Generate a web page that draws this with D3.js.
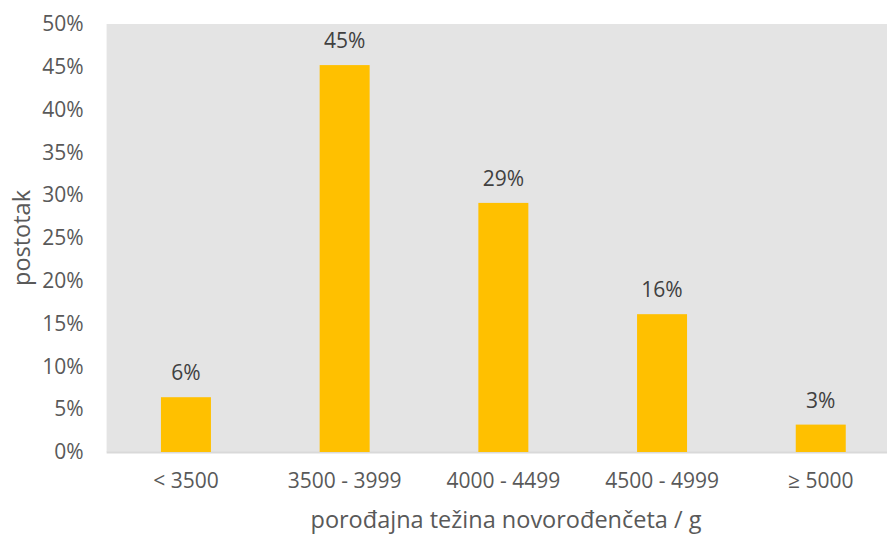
<!DOCTYPE html>
<html><head><meta charset="utf-8">
<script src="https://cdn.jsdelivr.net/npm/d3@7"></script>
<style>body{margin:0;background:#fff}svg{display:block}text{font-family:"Open Sans",sans-serif}</style>
</head><body><svg id="c" width="887" height="535"></svg>
<script>
const categories = ["< 3500", "3500 - 3999", "4000 - 4499", "4500 - 4999", "≥ 5000"];
const values = [0.064, 0.452, 0.291, 0.161, 0.032];
const labels = ["6%", "45%", "29%", "16%", "3%"];
const yTicks = [0,0.05,0.1,0.15,0.2,0.25,0.3,0.35,0.4,0.45,0.5];
const xTitle = "porođajna težina novorođenčeta / g";
const yTitle = "postotak";

(function(){
const svg = d3.select("#c");
const W = 887, H = 535;
const mLeft = 106.6, mTop = 24, mBottom = 452;
const fs = 21;
const x = d3.scaleBand().domain(categories).range([mLeft, mLeft + 5*158.7]).paddingInner(0.685).paddingOuter(0.3425);
const y = d3.scaleLinear().domain([0, 0.5]).range([mBottom, mTop]);

svg.append("rect").attr("x", mLeft).attr("y", mTop).attr("width", W-mLeft).attr("height", mBottom-mTop).attr("fill", "#e4e4e4");
svg.append("line").attr("x1", mLeft).attr("x2", W).attr("y1", mBottom+0.5).attr("y2", mBottom+0.5).attr("stroke", "#d9d9d9").attr("stroke-width", 2);

const yAxis = d3.axisLeft(y).tickValues(yTicks).tickFormat(d3.format(".0%")).tickSize(0).tickPadding(23);
const ga = svg.append("g").attr("transform", `translate(${mLeft},0)`).call(yAxis);
ga.select(".domain").remove();
ga.selectAll("text").attr("font-size", fs).attr("fill", "#595959").attr("font-family", '"Open Sans",sans-serif');

const xAxis = d3.axisBottom(x).tickSize(0).tickPadding(21);
const gx = svg.append("g").attr("transform", `translate(0,${mBottom})`).call(xAxis);
gx.select(".domain").remove();
gx.selectAll("text").attr("font-size", fs).attr("fill", "#595959").attr("font-family", '"Open Sans",sans-serif');

svg.selectAll("rect.bar").data(values).join("rect").attr("class","bar")
  .attr("x", (d,i)=>x(categories[i])).attr("width", x.bandwidth())
  .attr("y", d=>y(d)).attr("height", d=>mBottom-y(d)).attr("fill", "#FFC000");

svg.selectAll("text.lbl").data(values).join("text").attr("class","lbl")
  .attr("x", (d,i)=>x(categories[i])+x.bandwidth()/2).attr("y", d=>y(d)-17)
  .attr("text-anchor","middle").attr("font-size",fs).attr("fill","#404040")
  .text((d,i)=>labels[i]);

svg.append("text").attr("x", 506).attr("y", 528).attr("text-anchor","middle").attr("font-size",23.5).attr("fill","#595959").text(xTitle);
svg.append("text").attr("transform","translate(30,238) rotate(-90)").attr("text-anchor","middle").attr("font-size",23.5).attr("fill","#595959").text(yTitle);
})();
</script></body></html>
